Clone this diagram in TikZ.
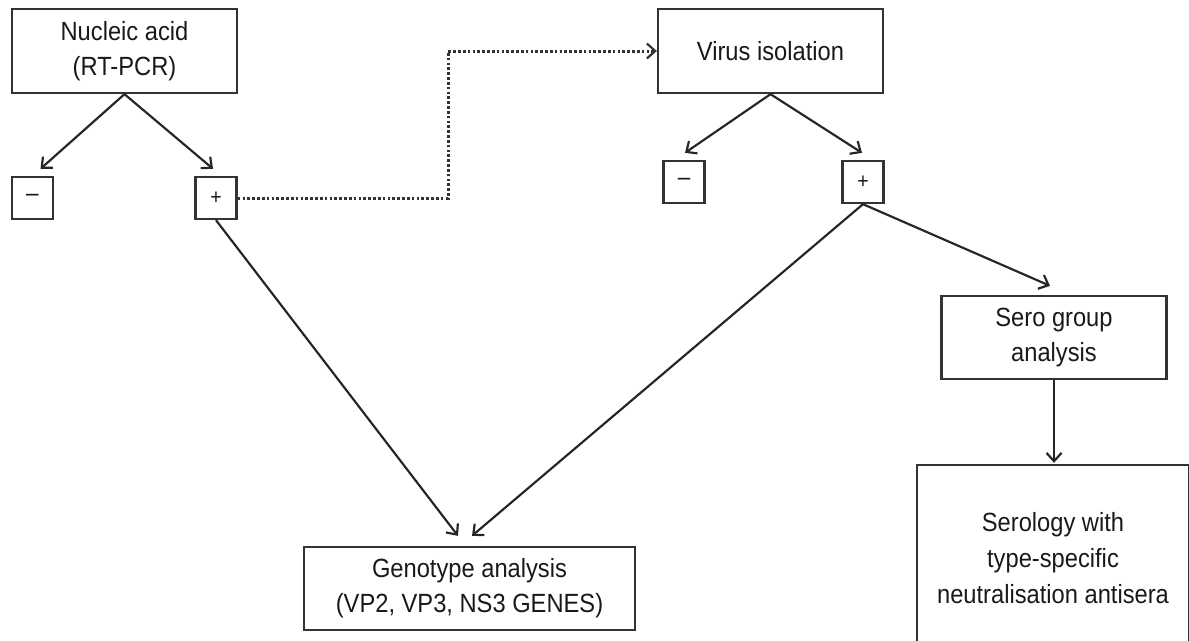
\documentclass[tikz,border=0pt]{standalone}
\usepackage{fontspec}
\setmainfont{Liberation Sans}[FakeStretch=0.9]
\usetikzlibrary{arrows.meta,calc}
\begin{document}
\begin{tikzpicture}[x=0.6pt,y=-0.6pt,
  box/.style={draw=black!80,line width=1.4pt,align=center,inner sep=0pt,
    text=black!90,font=\fontsize{15.8pt}{21pt}\selectfont},
  sbox/.style={draw=black!80,line width=1.4pt,inner sep=0pt,
    minimum width=24.6pt,minimum height=25.2pt,text=black!90,
    font=\fontsize{13pt}{14pt}\selectfont},
  arr/.style={draw=black!85,line width=1.3pt,-{Straight Barb[length=5pt,width=9pt]}},
  dotarr/.style={draw=black!80,line width=1.8pt,dash pattern=on 1.6pt off 1.3pt,
    -{Straight Barb[length=5pt,width=9pt,line width=1.3pt]}}]
\useasboundingbox (0,0) rectangle (1189,640);
\clip (0,0) rectangle (1189,640);
% boxes
\node[box,minimum width=135pt,minimum height=50.4pt] (nuc) at (124.5,51) {Nucleic acid\\(RT-PCR)};
\node[sbox] (nminus) at (32.5,198) {\fontsize{15pt}{15pt}\selectfont --};
\node[sbox] (nplus) at (216,198) {+};
\node[box,minimum width=135pt,minimum height=50.4pt] (virus) at (770.5,51) {Virus isolation};
\node[sbox] (vminus) at (684,182) {\fontsize{15pt}{15pt}\selectfont --};
\node[sbox] (vplus) at (863,182) {+};
\node[box,minimum width=135pt,minimum height=49.8pt] (sero) at (1054,337.5) {Sero group\\analysis};
\node[box,minimum width=198.6pt,minimum height=49.8pt] (geno) at (469.5,588.5) {Genotype analysis\\(VP2, VP3, NS3 GENES)};
\node[box,minimum width=163.2pt,minimum height=111.6pt,font=\fontsize{15.8pt}{21.6pt}\selectfont] (serol) at (1053,558) {Serology with\\type-specific\\neutralisation antisera};
% connectors
\draw[arr] (nuc.south) -- ([shift={(8,-7)}]nminus.north);
\draw[arr] (nuc.south) -- ([shift={(-3,-7)}]nplus.north);
\draw[arr] (virus.south) -- ([shift={(1,-7)}]vminus.north);
\draw[arr] (virus.south) -- ([shift={(-1,-7)}]vplus.north);
\draw[arr] (nplus.south) -- ([shift={(-11.5,-10)}]geno.north);
\draw[arr] (vplus.south) -- ([shift={(2.5,-10)}]geno.north);
\draw[arr] (vplus.south) -- ([shift={(-4,-9)}]sero.north);
\draw[arr] (sero.south) -- ([shift={(1,-1)}]serol.north);
\coordinate (bend) at (448,198);
\draw[dotarr] (nplus.east) -- (bend) |- (virus.west);
\end{tikzpicture}
\end{document}
